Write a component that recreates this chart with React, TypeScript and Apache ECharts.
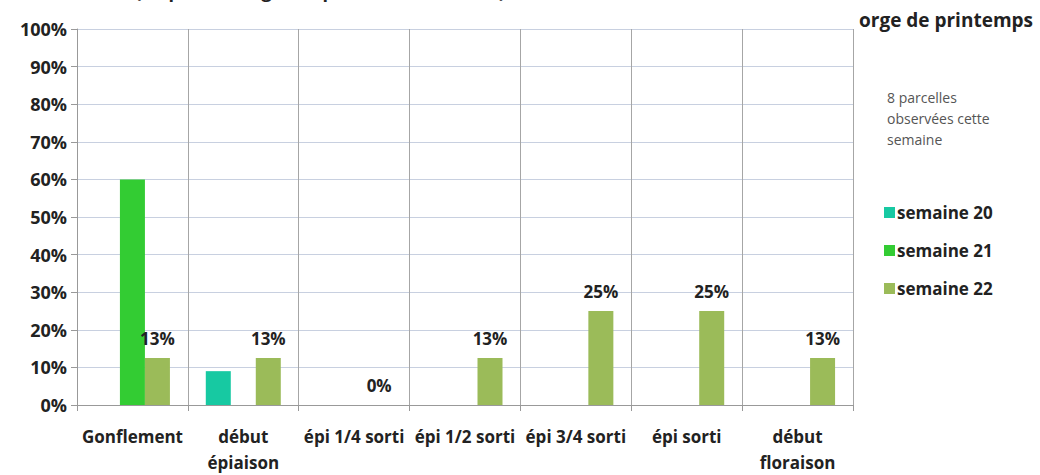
import React, { useEffect, useRef } from "react";
import * as echarts from "echarts";

const categories = [
  "Gonflement",
  "début\népiaison",
  "épi 1/4 sorti",
  "épi 1/2 sorti",
  "épi 3/4 sorti",
  "épi sorti",
  "début\nfloraison",
];
const seriesNames = ["semaine 20", "semaine 21", "semaine 22"];
const semaine20 = [null, 9, null, null, null, null, null];
const semaine21 = [60, null, null, null, null, null, null];
const semaine22 = [12.5, 12.5, 0, 12.5, 25, 25, 12.5];
const colors = ["#17c9a2", "#33cc33", "#9bbb59"];
const titleText = "Évolution des stades (en pourcentage des parcelles observées)";
const cropTitle = "orge de printemps";
const noteText = "8 parcelles\nobservées cette\nsemaine";

const FONT = "'Open Sans', 'DejaVu Sans', sans-serif";

export default function App() {
  const ref = useRef<HTMLDivElement>(null);
  useEffect(() => {
    if (!ref.current) return;
    const chart = echarts.init(ref.current, undefined, { renderer: "svg" });
    const mk = (name: string, data: (number | null)[], color: string, label: boolean) => ({
      name,
      type: "bar",
      data,
      barWidth: 25,
      barGap: "0%",
      itemStyle: { color },
      label: {
        show: label,
        position: "top",
        distance: 11,
        fontFamily: FONT,
        fontWeight: "bold",
        fontSize: 17,
        color: "#222",
        formatter: (p: any) => Math.round(p.value) + "%",
      },
    });
    chart.setOption({
      animation: false,
      textStyle: { fontFamily: FONT },
      grid: { left: 77, right: 187, top: 29, bottom: 54 },
      legend: {
        orient: "vertical",
        left: 879,
        top: 199,
        itemWidth: 11,
        itemHeight: 11,
        itemGap: 21,
        icon: "rect",
        data: seriesNames,
        textStyle: { fontFamily: FONT, fontWeight: "bold", fontSize: 17, color: "#222", padding: [0, 0, 0, -3] },
      },
      xAxis: {
        type: "category",
        data: categories,
        axisLine: { lineStyle: { color: "#999" } },
        axisTick: { show: true, interval: 0, length: 6, lineStyle: { color: "#999" } },
        splitLine: { show: true, interval: 0, lineStyle: { color: "#a6a6a6" } },
        axisLabel: {
          interval: 0,
          margin: 18,
          fontFamily: FONT,
          fontWeight: "bold",
          fontSize: 17,
          color: "#222",
          lineHeight: 26,
        },
      },
      yAxis: {
        type: "value",
        min: 0,
        max: 100,
        interval: 10,
        axisLine: { show: true, lineStyle: { color: "#999" } },
        axisTick: { show: true, length: 6, lineStyle: { color: "#999" } },
        splitLine: { lineStyle: { color: "#c8d0e0" } },
        axisLabel: {
          formatter: "{value}%",
          margin: 10,
          fontFamily: FONT,
          fontWeight: "bold",
          fontSize: 18,
          color: "#222",
        },
      },
      graphic: [
        {
          type: "text",
          x: 505,
          y: 0,
          style: {
            text: titleText,
            align: "right",
            verticalAlign: "bottom",
            font: "bold 18px " + FONT,
            fill: "#222",
          },
        },
        {
          type: "text",
          x: 859,
          y: 20,
          style: {
            text: cropTitle,
            verticalAlign: "middle",
            font: "bold 19px " + FONT,
            fill: "#222",
          },
        },
        {
          type: "text",
          x: 887,
          y: 87,
          style: {
            text: noteText,
            font: "14px " + FONT,
            lineHeight: 21,
            fill: "#555",
          },
        },
      ],
      series: [
        mk(seriesNames[0], semaine20, colors[0], false),
        mk(seriesNames[1], semaine21, colors[1], false),
        mk(seriesNames[2], semaine22, colors[2], true),
      ],
    });
    return () => chart.dispose();
  }, []);
  return (
    <div
      ref={ref}
      style={{ position: "absolute", left: 0, top: 0, width: 1040, height: 475, background: "#fff" }}
    />
  );
}
